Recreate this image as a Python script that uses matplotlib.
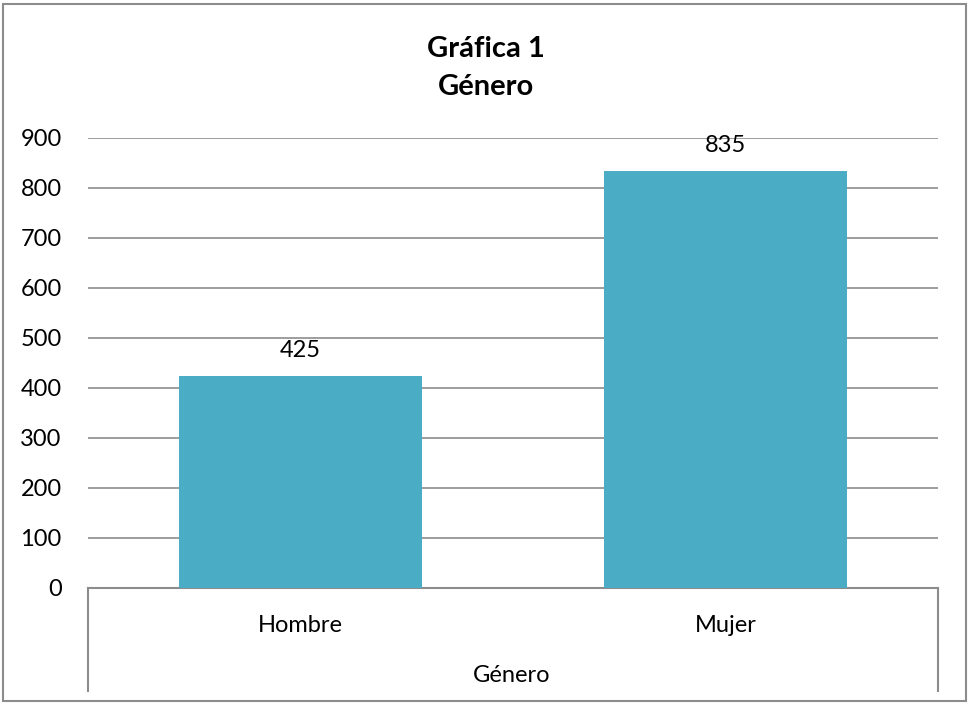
import matplotlib.pyplot as plt
from matplotlib.patches import Rectangle

# data ----------------------------------
categories = ['Hombre', 'Mujer']
values = [425, 835]
group_label = 'Género'
title_lines = ['Gráfica 1', 'Género']

plt.rcParams['font.family'] = ['Lato', 'DejaVu Sans']

W, H = 969, 705
fig = plt.figure(figsize=(W / 100, H / 100), dpi=100)

# outer chart border
fig.patches.append(Rectangle((3 / W, 4 / H), 963 / W, 697 / H, transform=fig.transFigure,
                             fill=False, edgecolor='#8c8c8c', linewidth=1.5))

# plot area in pixels: x 88..938, y(0)=588, y(900)=138
ax = fig.add_axes([88 / W, (H - 588) / H, 850 / W, 450 / H])
x = range(len(categories))
bars = ax.bar(x, values, width=0.57, color='#4BACC6', zorder=3)
ax.set_xlim(-0.5, len(categories) - 0.5)
ax.set_ylim(0, 900)
ax.set_yticks(range(0, 901, 100))
ax.yaxis.grid(True, color='#8c8c8c', linewidth=1.2, zorder=0)
for s in ['top', 'right', 'left']:
    ax.spines[s].set_visible(False)
ax.spines['bottom'].set_color('#8c8c8c')
ax.spines['bottom'].set_linewidth(1.5)
ax.tick_params(axis='y', length=0, labelsize=17, pad=19)
ax.tick_params(axis='x', length=0, labelbottom=False)

# value labels
for b, v in zip(bars, values):
    ax.annotate(str(v), (b.get_x() + b.get_width() / 2, v), xytext=(0, 13),
                textcoords='offset points', ha='center', va='baseline', fontsize=17)

# multi-level category axis
for i, c in enumerate(categories):
    fig.text((88 + 212.5 + 425 * i) / W, (H - 632) / H, c, ha='center', va='baseline', fontsize=17)
fig.text(512 / W, (H - 682) / H, group_label, ha='center', va='baseline', fontsize=17)
for px in [88, 938]:
    fig.add_artist(plt.Line2D([px / W, px / W], [(H - 588) / H, (H - 691) / H],
                              color='#8c8c8c', linewidth=1.5))

# title
for line, base in zip(title_lines, [57, 95]):
    fig.text(486 / W, (H - base) / H, line, ha='center', va='baseline', fontsize=21,
             fontweight='bold')

plt.savefig('out.png', dpi=100)
